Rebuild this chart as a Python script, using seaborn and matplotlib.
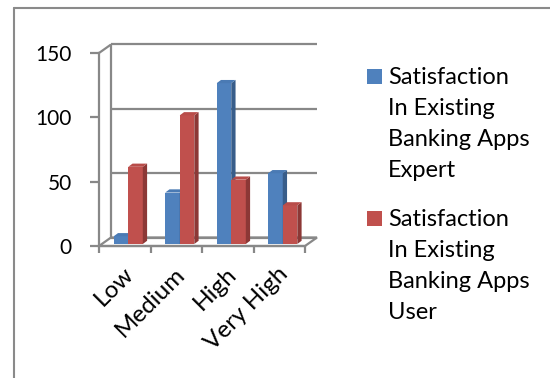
import matplotlib
matplotlib.use("Agg")
import matplotlib.pyplot as plt
import seaborn as sns
import pandas as pd
from matplotlib.transforms import Affine2D, IdentityTransform
from matplotlib.patches import Polygon, Rectangle
from matplotlib.lines import Line2D

# ---- data -------------------------------------------------------------
categories = ["Low", "Medium", "High", "Very High"]
expert_values = [6, 40, 125, 55]
user_values = [60, 100, 50, 30]
series_names = [
    "Satisfaction In Existing Banking Apps Expert",
    "Satisfaction In Existing Banking Apps User",
]
legend_lines = [
    ["Satisfaction", "In Existing", "Banking Apps", "Expert"],
    ["Satisfaction", "In Existing", "Banking Apps", "User"],
]
y_ticks = [0, 50, 100, 150]

# ---- style ------------------------------------------------------------
front_colors = ["#4F81BD", "#C0504D"]
side_colors = ["#385D8A", "#8C3836"]
top_colors = ["#4A7AB4", "#B84C49"]
grid_color = "#888888"
YTICK_SIZE = 15
XTICK_SIZE = 17.5
LEGEND_SIZE = 17

W, H, DPI = 550, 378, 100
sns.set_theme(style="white")
plt.rcParams["font.family"] = ["Lato", "DejaVu Sans"]


def fx(px):
    return px / W


def fy(py):
    return 1 - py / H


fig = plt.figure(figsize=(W / DPI, H / DPI), dpi=DPI)
fig.patch.set_facecolor("white")

# axes = front plane of the 3-D box
ax = fig.add_axes([fx(99), fy(246), (305 - 99) / W, (246 - 53) / H])
ax.set_facecolor("none")

df = pd.DataFrame({
    "category": categories * 2,
    "value": expert_values + user_values,
    "series": [series_names[0]] * len(categories) + [series_names[1]] * len(categories),
})
sns.barplot(data=df, x="category", y="value", hue="series",
            order=categories, hue_order=series_names,
            palette=front_colors, saturation=1, width=0.565,
            legend=False, ax=ax, linewidth=0)

ax.set_xlim(-0.5, len(categories) - 0.5)
ax.set_ylim(0, 150)
ax.set_xlabel("")
ax.set_ylabel("")

# depth offsets (display pixels)
BAR_SHIFT = (3.5, 2.0)     # front face of bars behind the front plane
BACK_SHIFT = (12.0, 8.5)   # back wall
BAR_DEPTH = (4.3, 3.2)     # depth of a single bar

bar_tr = ax.transData + Affine2D().translate(*BAR_SHIFT)
back_tr = ax.transData + Affine2D().translate(*BACK_SHIFT)
front_tr = ax.transData

x0, x1 = ax.get_xlim()
line_kw = dict(color=grid_color, lw=1.6, clip_on=False, solid_capstyle="butt")

# floor
floor_pts = [front_tr.transform((x0, 0)), front_tr.transform((x1, 0)),
             back_tr.transform((x1, 0)), back_tr.transform((x0, 0))]
ax.add_patch(Polygon(floor_pts, closed=True, transform=IdentityTransform(),
                     facecolor="white", edgecolor=grid_color, lw=1.6,
                     clip_on=False, zorder=1))

# back wall gridlines and wall edges
for t in y_ticks:
    ax.add_line(Line2D([x0, x1], [t, t], transform=back_tr, zorder=1.2, **line_kw))
ax.add_line(Line2D([x0, x0], [0, 150], transform=back_tr, zorder=1.2, **line_kw))
top_link = [front_tr.transform((x0, 150)), back_tr.transform((x0, 150))]
ax.add_line(Line2D([p[0] for p in top_link], [p[1] for p in top_link],
                   transform=IdentityTransform(), zorder=1.2, **line_kw))

# bars: front faces from seaborn, plus side and top faces
n = len(categories)
for i, patch in enumerate(ax.patches[:]):
    if not isinstance(patch, Rectangle) or patch.get_height() <= 0:
        continue
    s = i // n
    z = 3 + s * 0.5
    patch.set_transform(bar_tr)
    patch.set_zorder(z)
    bx, bw, bh = patch.get_x(), patch.get_width(), patch.get_height()
    br = bar_tr.transform((bx + bw, 0))
    tl = bar_tr.transform((bx, bh))
    trp = bar_tr.transform((bx + bw, bh))
    dx, dy = BAR_DEPTH
    side = [br, trp, (trp[0] + dx, trp[1] + dy), (br[0] + dx, br[1] + dy)]
    top = [tl, trp, (trp[0] + dx, trp[1] + dy), (tl[0] + dx, tl[1] + dy)]
    ax.add_patch(Polygon(side, closed=True, transform=IdentityTransform(),
                         facecolor=side_colors[s], lw=0, clip_on=False, zorder=z + 0.1))
    ax.add_patch(Polygon(top, closed=True, transform=IdentityTransform(),
                         facecolor=top_colors[s], lw=0, clip_on=False, zorder=z + 0.1))

# front axes lines
for side_name in ["top", "right"]:
    ax.spines[side_name].set_visible(False)
for side_name in ["left", "bottom"]:
    ax.spines[side_name].set_color(grid_color)
    ax.spines[side_name].set_linewidth(1.6)
    ax.spines[side_name].set_zorder(2)

ax.set_yticks(y_ticks)
ax.set_yticklabels([str(t) for t in y_ticks])
ax.tick_params(axis="y", which="major", direction="out", length=6.5, width=1.6,
               color=grid_color, pad=13, labelsize=YTICK_SIZE, labelcolor="black", left=True)

ax.set_xticks(range(n))
ax.set_xticklabels(categories)
ax.set_xticks([k - 0.5 for k in range(n + 1)], minor=True)
ax.tick_params(axis="x", which="major", length=0, pad=8, labelsize=XTICK_SIZE,
               labelcolor="black")
ax.tick_params(axis="x", which="minor", direction="out", length=5, width=1.6,
               color=grid_color, bottom=True)
for lab in ax.get_xticklabels():
    lab.set_rotation(45)
    lab.set_ha("right")
    lab.set_va("top")
    lab.set_rotation_mode("anchor")
    lab.set_transform(lab.get_transform() + Affine2D().translate(-2, -6))

# outer chart frame
fig.add_artist(Line2D([fx(14), 1], [fy(7.5), fy(7.5)], color="#8a8a8a", lw=1.5))
fig.add_artist(Line2D([fx(14), fx(14)], [fy(7.5), 0], color="#8a8a8a", lw=1.5))

# legend
entry_tops = [69, 211]
for s, lines in enumerate(legend_lines):
    top_px = entry_tops[s]
    fig.add_artist(Rectangle((fx(367), fy(top_px + 15)), 15 / W, 15 / H,
                             facecolor=front_colors[s], edgecolor="none"))
    for k, line in enumerate(lines):
        fig.text(fx(388), fy(top_px + 15.3 + 31 * k), line, fontsize=LEGEND_SIZE,
                 color="black", ha="left", va="baseline")

fig.savefig("out.png", dpi=DPI, facecolor="white")
